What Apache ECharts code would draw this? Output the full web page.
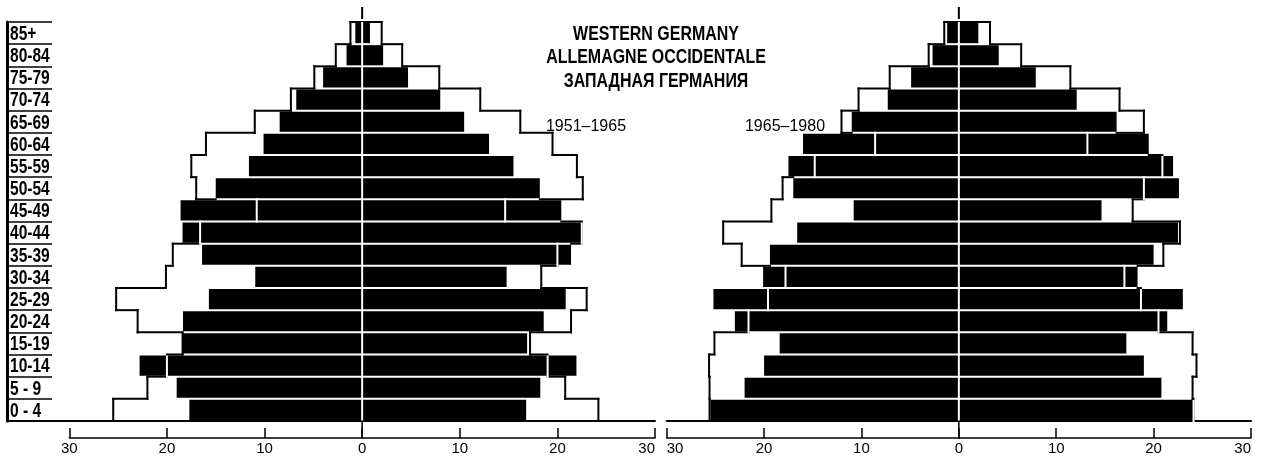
<!DOCTYPE html>
<html>
<head>
<meta charset="utf-8">
<script src="https://cdn.jsdelivr.net/npm/echarts/dist/echarts.min.js"></script>
<style>
  html, body { margin: 0; padding: 0; background: #fff; }
  #chart { width: 1263px; height: 465px; }
</style>
</head>
<body>
<div id="chart"></div>
<script>
// Age groups, bottom to top
const ageGroups = ['0 - 4', '5 - 9', '10-14', '15-19', '20-24', '25-29', '30-34', '35-39', '40-44',
  '45-49', '50-54', '55-59', '60-64', '65-69', '70-74', '75-79', '80-84', '85+'];

// Males (drawn to the left of 0)
const male1951 = [17.7, 19.0, 22.8, 18.4, 18.35, 15.7, 10.95, 16.4, 18.4, 18.6, 15.0, 11.6, 10.1, 8.45, 6.75, 4.0, 1.6, 0.7];
const male1965 = [25.5, 22.0, 20.0, 18.4, 23.0, 25.2, 20.1, 19.4, 16.6, 10.8, 17.0, 17.5, 16.0, 11.0, 7.3, 4.9, 2.7, 1.2];
const male1980 = [25.6, 25.6, 25.65, 25.1, 21.6, 19.6, 17.8, 22.3, 24.2, 19.25, 18.1, 14.8, 8.6, 12.05, 10.3, 7.1, 3.1, 1.5];

// Females (drawn to the right of 0)
const female1951 = [16.8, 18.25, 21.95, 16.9, 18.6, 20.85, 14.8, 21.4, 22.6, 20.4, 18.2, 15.5, 13.0, 10.45, 8.0, 4.7, 2.15, 0.8];
const female1965 = [24.2, 20.8, 19.0, 17.2, 21.4, 23.0, 18.35, 20.0, 22.5, 14.65, 22.6, 22.0, 19.5, 16.2, 12.1, 7.9, 4.1, 2.0];
const female1980 = [24.1, 24.0, 24.4, 24.0, 20.5, 18.7, 17.0, 21.0, 22.7, 17.85, 19.0, 20.9, 13.2, 19.0, 16.5, 11.45, 6.4, 3.2];

const titleLines = ['WESTERN GERMANY', 'ALLEMAGNE OCCIDENTALE', 'ЗАПАДНАЯ ГЕРМАНИЯ'];
const periodLabels = ['1951–1965', '1965–1980'];
const axisRange = { min: -30, max: 30, interval: 10 };

const INK = '#000';
const SANS = "'Liberation Sans', Arial, sans-serif";

// layout of the two pyramids and the age-label column
const TOP = 22, HEIGHT = 399;
const grids = [
  { left: 7, top: TOP, width: 45, height: HEIGHT },          // age labels
  { left: 69.3, top: TOP, width: 585.7, height: HEIGHT },    // 1951-1965
  { left: 666.7, top: TOP, width: 584.3, height: HEIGHT },   // 1965-1980
  { left: 7, top: TOP, width: 648, height: HEIGHT }          // base line under the first pyramid
];

function tickAxis(gridIndex, alignMin, alignMax) {
  return {
    type: 'value', gridIndex, position: 'bottom', offset: 17,
    min: axisRange.min, max: axisRange.max, interval: axisRange.interval,
    axisLine: { show: true, onZero: false, lineStyle: { color: INK, width: 1.5 } },
    axisTick: { show: true, inside: true, length: 10, lineStyle: { color: INK, width: 1.5 } },
    axisLabel: {
      color: INK, fontFamily: SANS, fontSize: 15, margin: 3,
      alignMinLabel: alignMin, alignMaxLabel: alignMax,
      formatter: v => String(Math.abs(v))
    },
    splitLine: { show: false }
  };
}

function baseAxis(gridIndex, min, max) {
  return {
    type: 'value', gridIndex, position: 'bottom', offset: 0, min, max,
    axisLine: { show: true, onZero: false, lineStyle: { color: INK, width: 2 } },
    axisTick: { show: false }, axisLabel: { show: false }, splitLine: { show: false }
  };
}

function hiddenCategory(gridIndex) {
  return { type: 'category', gridIndex, data: ageGroups, show: false, boundaryGap: true };
}

function barSeries(axisIndex, values, sign) {
  return {
    type: 'bar', xAxisIndex: axisIndex, yAxisIndex: axisIndex, silent: true,
    data: values.map(v => sign * v),
    barCategoryGap: '9%', barGap: '-100%',
    itemStyle: { color: INK }, z: 2, animation: false
  };
}

// Step outline of the later year, the white centre line and the 0 ticks
function outlineSeries(axisIndex, startM, endM, startF, endF) {
  const n = ageGroups.length;
  return {
    type: 'custom', xAxisIndex: axisIndex, yAxisIndex: axisIndex, silent: true, z: 5,
    animation: false, clip: false,
    data: ageGroups.map((g, i) => [0, i]),
    encode: { x: 0, y: 1 },
    renderItem: (params, api) => {
      const i = params.dataIndex;
      const band = api.size([0, 1])[1];
      const c = api.coord([0, i]);
      const top = c[1] - band / 2, bot = c[1] + band / 2;
      const children = [];
      const line = (x1, y1, x2, y2, stroke, w) => children.push({
        type: 'line', shape: { x1, y1, x2, y2 },
        style: { stroke, lineWidth: w || 2, lineCap: 'square' }
      });
      [[-1, startM, endM], [1, startF, endF]].forEach(([s, base, later]) => {
        const o = later[i], b = base[i];
        const xo = api.coord([s * o, i])[0];
        line(xo, top, xo, bot, o >= b - 0.05 ? INK : '#fff');
        const oUp = i < n - 1 ? later[i + 1] : 0;
        const bUp = i < n - 1 ? base[i + 1] : 0;
        const lo = Math.max(Math.min(o, oUp), Math.min(b, bUp));
        const hi = Math.max(o, oUp);
        if (hi > lo) {
          line(api.coord([s * lo, i])[0], top, api.coord([s * hi, i])[0], top, INK);
        }
      });
      line(c[0], top + 1, c[0], bot - 1, '#fff', 2);
      if (i === n - 1) line(c[0], top - 4, c[0], top - 14, INK, 2);
      if (i === 0) line(c[0], bot, c[0], bot + 17, INK, 1.5);
      return { type: 'group', children };
    }
  };
}

// Age-group names in the boxed column, set in a narrowed bold face
const ageLabelSeries = {
  type: 'custom', xAxisIndex: 0, yAxisIndex: 0, silent: true, z: 5, animation: false,
  data: ageGroups.map((g, i) => [0, i]),
  encode: { x: 0, y: 1 },
  renderItem: (params, api) => {
    const p = api.coord([0, params.dataIndex]);
    return {
      type: 'text', x: p[0] + 3, y: p[1] + 1, scaleX: 0.74,
      style: {
        text: ageGroups[params.dataIndex], fill: INK,
        font: "bold 21px 'Liberation Sans', Arial, sans-serif",
        textAlign: 'left', textVerticalAlign: 'middle'
      }
    };
  }
};

const chart = echarts.init(document.getElementById('chart'), null, { renderer: 'canvas' });

chart.setOption({
  animation: false,
  backgroundColor: '#fff',
  title: [
    {
      text: periodLabels[0], left: 581, top: 114, textAlign: 'center',
      textStyle: { color: INK, fontFamily: SANS, fontWeight: 'normal', fontSize: 16 }
    },
    {
      text: periodLabels[1], left: 780, top: 114, textAlign: 'center',
      textStyle: { color: INK, fontFamily: SANS, fontWeight: 'normal', fontSize: 16 }
    }
  ],
  graphic: titleLines.map((t, k) => ({
    type: 'text', x: 656, y: 34 + k * 23.5, scaleX: 0.76, silent: true,
    style: {
      text: t, fill: INK, font: "bold 21px 'Liberation Sans', Arial, sans-serif",
      textAlign: 'center', textVerticalAlign: 'middle'
    }
  })),
  grid: grids,
  xAxis: [
    { type: 'value', gridIndex: 0, min: 0, max: 1, show: false },
    tickAxis(1, 'center', 'right'),
    tickAxis(2, 'left', 'right'),
    baseAxis(2, axisRange.min, axisRange.max),
    baseAxis(3, 0, 1)
  ],
  yAxis: [
    {
      type: 'category', gridIndex: 0, data: ageGroups, position: 'left', boundaryGap: true,
      axisLine: { show: true, lineStyle: { color: INK, width: 3 } },
      axisTick: { show: false },
      axisLabel: { show: false },
      splitLine: { show: true, interval: 0, lineStyle: { color: INK, width: 1.5 } }
    },
    hiddenCategory(1),
    hiddenCategory(2),
    hiddenCategory(2),
    hiddenCategory(3)
  ],
  series: [
    ageLabelSeries,
    barSeries(1, male1951, -1),
    barSeries(1, female1951, 1),
    outlineSeries(1, male1951, male1965, female1951, female1965),
    barSeries(2, male1965, -1),
    barSeries(2, female1965, 1),
    outlineSeries(2, male1965, male1980, female1965, female1980)
  ]
});
</script>
</body>
</html>
